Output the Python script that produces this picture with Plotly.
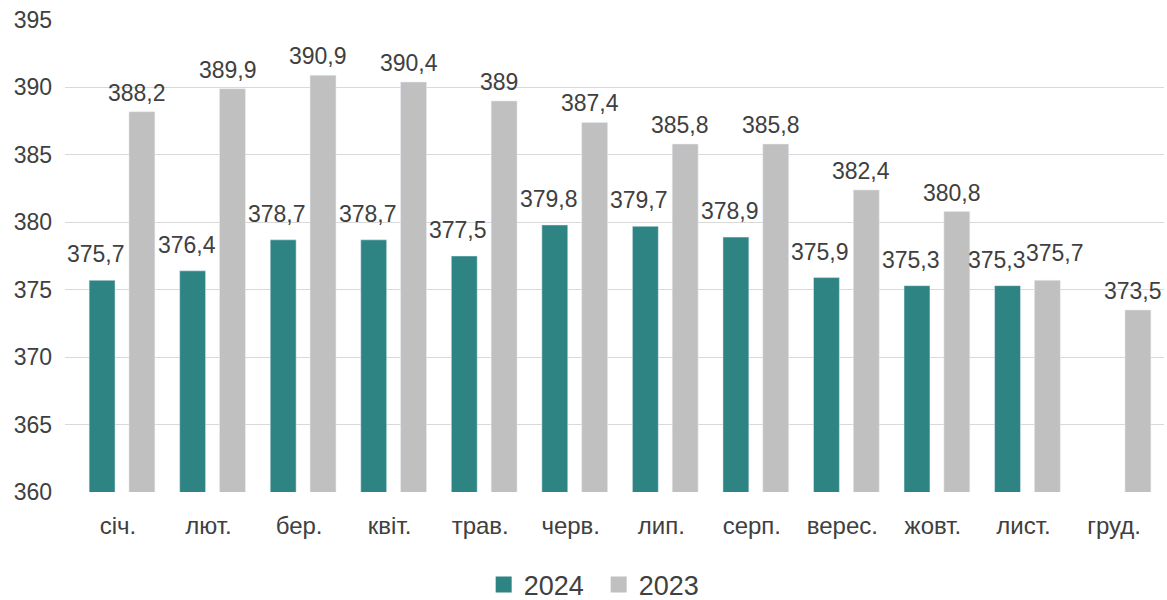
import plotly.graph_objects as go

months = ["січ.", "лют.", "бер.", "квіт.", "трав.", "черв.", "лип.", "серп.", "верес.", "жовт.", "лист.", "груд."]
values_2024 = [375.7, 376.4, 378.7, 378.7, 377.5, 379.8, 379.7, 378.9, 375.9, 375.3, 375.3, None]
values_2023 = [388.2, 389.9, 390.9, 390.4, 389.0, 387.4, 385.8, 385.8, 382.4, 380.8, 375.7, 373.5]
y_ticks = [360, 365, 370, 375, 380, 385, 390, 395]

TEAL = "#2e8482"
GREY = "#c0c0c0"
TEXT = "#404040"
FONT = "Liberation Sans, Arial, sans-serif"


def fmt(v):
    s = f"{v:.1f}".replace(".", ",")
    return s[:-2] if s.endswith(",0") else s


fig = go.Figure()
fig.add_trace(go.Bar(name="2024", x=months, y=values_2024, marker_color=TEAL, showlegend=False))
fig.add_trace(go.Bar(name="2023", x=months, y=values_2023, marker_color=GREY, showlegend=False))

# larger square swatches for the legend
for name, col in (("2024", TEAL), ("2023", GREY)):
    fig.add_trace(go.Scatter(name=name, x=[None], y=[None], mode="markers",
                             marker=dict(symbol="square", size=17, color=col)))

# value labels above each bar; labels of near-equal neighbours are pushed apart
annotations = []
for i, m in enumerate(months):
    v24, v23 = values_2024[i], values_2023[i]
    close = v24 is not None and abs(v23 - v24) < 1.0
    if v24 is not None:
        annotations.append(dict(x=m, y=v24, xref="x", yref="y", text=fmt(v24),
                                showarrow=False, yanchor="bottom",
                                xshift=-30 if close else -26, yshift=11))
    annotations.append(dict(x=m, y=v23, xref="x", yref="y", text=fmt(v23),
                            showarrow=False, yanchor="bottom",
                            xshift=28 if close else 15, yshift=12 if close else 4))

fig.update_layout(
    width=1167, height=600,
    margin=dict(l=65, r=3, t=20, b=108, autoexpand=False),
    paper_bgcolor="white", plot_bgcolor="white",
    barmode="group", bargap=0.12, bargroupgap=0.35,
    font=dict(family=FONT, size=23, color=TEXT),
    annotations=annotations,
    showlegend=True,
    legend=dict(orientation="h", xref="container", x=0.513, xanchor="center",
                y=-0.145, yanchor="top", entrywidth=70,
                font=dict(size=27, color=TEXT), itemsizing="trace",
                traceorder="normal"),
    xaxis=dict(showgrid=False, showline=False, ticks="", tickfont=dict(size=24, color=TEXT),
               ticklabelstandoff=17, ticklabelshift=-4, automargin=False),
    yaxis=dict(range=[360, 395], tickvals=y_ticks, showgrid=True, gridcolor="#d9d9d9",
               gridwidth=1, zeroline=False, showline=False, ticks="",
               tickfont=dict(size=23, color=TEXT), ticklabelstandoff=12, automargin=False),
)

fig.write_html("out.html")
